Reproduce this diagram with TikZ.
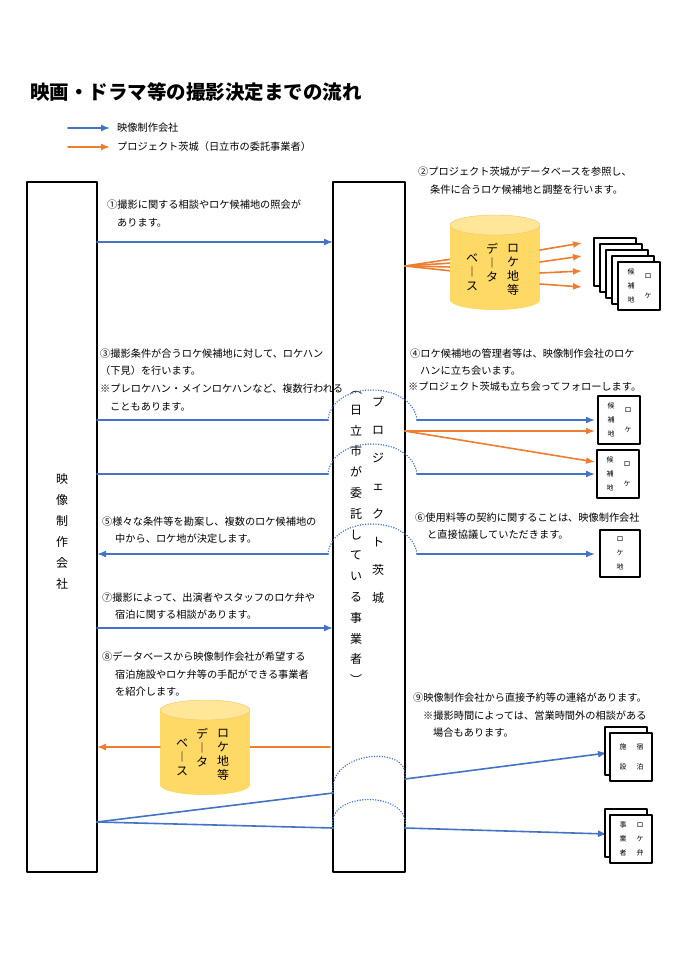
\documentclass[tikz,border=0pt]{standalone}
\usepackage{fontspec}
\setmainfont{Noto Sans CJK JP}
\usetikzlibrary{arrows.meta}
\definecolor{arblue}{HTML}{4472C4}
\definecolor{arorange}{HTML}{ED7D31}
\definecolor{dbfill}{HTML}{FFD966}
\definecolor{dbtop}{HTML}{FFE699}
\definecolor{dbedge}{HTML}{F4C36A}
\newcommand\dbase[2]{% cylinder at left x #1, top y #2
  \fill[dbfill] (#1,#2+10) rectangle (#1+90,#2+85);
  \fill[dbfill] (#1+45,#2+85) ellipse (45 and 10);
  \filldraw[fill=dbtop,draw=dbedge] (#1+45,#2+10) ellipse (45 and 10);
  \node[vt] at (#1+63,#2+55) {ロ\\ケ\\地\\等};
  \node[vt] at (#1+42,#2+48) {デ\\︱\\タ};
  \node[vt] at (#1+22,#2+57) {ベ\\︱\\ス};
}
\newcommand\doc[4]{% page at x #1, y #2, right col #3, left col #4
  \filldraw[fill=white,draw=black,line width=1.5pt] (#1,#2) rectangle ++(42,48);
  \node[pt] at (#1+30,#2+24) {#3};
  \node[pt] at (#1+13,#2+24) {#4};
}
\begin{document}
\begin{tikzpicture}
      [x=1pt,y=-1pt,line cap=round,line join=round,
       txt/.style={anchor=west,inner sep=0pt,font=\fontsize{10.2}{12}\selectfont},
       vt/.style={align=center,inner sep=0pt,font=\fontsize{12}{14}\selectfont},
       pt/.style={align=center,inner sep=0pt,font=\fontsize{7}{14}\selectfont},
       bl/.style={-{Latex[length=9pt,width=7pt]},arblue,line width=1.6pt},
       or/.style={-{Latex[length=9pt,width=7pt]},arorange,line width=1.6pt},
       bline/.style={arblue,line width=1.6pt},
       oline/.style={arorange,line width=1.6pt},
       hop/.style={arblue,line width=1.6pt,dash pattern=on 0pt off 2.6pt}]
\useasboundingbox (0,0) rectangle (690,976);

%title and legend
\node[anchor=west,inner sep=0pt,font=\fontsize{19.5}{22}\selectfont\bfseries] (title) at (30,92) {映画・ドラマ等の撮影決定までの流れ};
\node[txt] (leg1) at (117,128) {映像制作会社};
\node[txt] (leg2) at (117,147) {プロジェクト茨城（日立市の委託事業者）};
\draw[bl] (68,128) -- (110,128);
\draw[or] (68,147) -- (110,147);

%the two columns
\draw[line width=1.3pt] (27,182) rectangle (97,872);
\draw[line width=1.3pt] (333,182) rectangle (405,872);
\node[vt,font=\fontsize{12}{21}\selectfont] (eizo) at (62,531) {映\\像\\制\\作\\会\\社};
\node[vt,font=\fontsize{12}{28}\selectfont] (pi) at (378,500) {プ\\ロ\\ジ\\ェ\\ク\\ト\\茨\\城};
\node[vt,font=\fontsize{12}{20.8}\selectfont] (hit) at (356,538) {︵\\日\\立\\市\\が\\委\\託\\し\\て\\い\\る\\事\\業\\者\\︶};

%step 1 and 2
\node[txt] (t1) at (107,205) {①撮影に関する相談やロケ候補地の照会が};
\node[txt] at (117,223) {あります。};
\draw[bl] (97,242) -- (333,242);
\node[txt] (t2) at (418,172) {②プロジェクト茨城がデータベースを参照し、};
\node[txt] at (430,190) {条件に合うロケ候補地と調整を行います。};
\foreach \y in {259,263,267,271} \draw[oline] (405,266) -- (452,\y);
\dbase{450}{215}
\foreach \a/\b in {250/243,262/256,273/271,284/287} \draw[or] (540,\a) -- (582,\b);
\foreach \i [evaluate=\i as \px using 618-6*\i, evaluate=\i as \py using 262-6*\i] in {4,3,2,1}
  {\doc{\px}{\py}{}{}}
\doc{618}{262}{ロ\\[6pt]ケ}{候\\補\\地}

%step 3 and 4
\node[txt] (t3) at (100,354) {③撮影条件が合うロケ候補地に対して、ロケハン};
\node[txt] at (100,371) {（下見）を行います。};
\node[txt] at (100,389) {※プレロケハン・メインロケハンなど、複数行われる};
\node[txt] at (110,407) {こともあります。};
\node[txt] (t4) at (410,354) {④ロケ候補地の管理者等は、映像制作会社のロケ};
\node[txt] at (420,371) {ハンに立ち会います。};
\node[txt] at (408,387) {※プロジェクト茨城も立ち会ってフォローします。};
\foreach \y in {420,474} {
  \draw[bline] (97,\y) -- (328,\y);
  \draw[hop] (328,\y) .. controls (332,\y-40) and (412,\y-40) .. (417,\y);
  \draw[bl] (417,\y) -- (595,\y);
}
\draw[or] (405,431) -- (595,431);
\draw[or] (405,431) -- (595,462);
\doc{598}{396}{ロ\\[6pt]ケ}{候\\補\\地}
\doc{597}{450}{ロ\\[6pt]ケ}{候\\補\\地}

%step 5 and 6
\node[txt] (t5) at (102,522) {⑤様々な条件等を勘案し、複数のロケ候補地の};
\node[txt] at (115,539) {中から、ロケ地が決定します。};
\draw[hop] (328,554) .. controls (332,514) and (412,514) .. (417,554);
\draw[bl] (328,554) -- (97,554);
\node[txt] (t6) at (415,518) {⑥使用料等の契約に関することは、映像制作会社};
\node[txt] at (427,535) {と直接協議していただきます。};
\draw[bl] (417,554) -- (595,554);
\filldraw[fill=white,draw=black,line width=1.5pt] (600,530) rectangle (640,577);
\node[pt] at (620,553) {ロ\\ケ\\地};

%step 7 and 8
\node[txt] (t7) at (102,598) {⑦撮影によって、出演者やスタッフのロケ弁や};
\node[txt] at (115,615) {宿泊に関する相談があります。};
\draw[bl] (97,628) -- (333,628);
\node[txt] (t8) at (102,657) {⑧データベースから映像制作会社が希望する};
\node[txt] at (115,675) {宿泊施設やロケ弁等の手配ができる事業者};
\node[txt] at (115,692) {を紹介します。};
\draw[oline] (330,747) -- (250,747);
\dbase{160}{700}
\draw[or] (160,747) -- (97,747);

%step 9
\node[txt] (t9) at (413,698) {⑨映像制作会社から直接予約等の連絡があります。};
\node[txt] at (423,716) {※撮影時間によっては、営業時間外の相談がある};
\node[txt] at (433,733) {場合もあります。};
\draw[bline] (97,822) -- (333,793);
\draw[hop] (333,793) .. controls (328,750) and (410,745) .. (405,777);
\draw[bl] (405,779) -- (607,753);
\draw[bline] (97,822) -- (333,828);
\draw[hop] (333,828) .. controls (325,790) and (412,790) .. (405,828);
\draw[bl] (405,828) -- (607,834);
\doc{605}{727}{}{}
\doc{610}{733}{宿\\[6pt]泊}{施\\[6pt]設}
\doc{605}{809}{}{}
\doc{610}{815}{ロ\\ケ\\弁}{事\\業\\者}
\end{tikzpicture}
\end{document}
